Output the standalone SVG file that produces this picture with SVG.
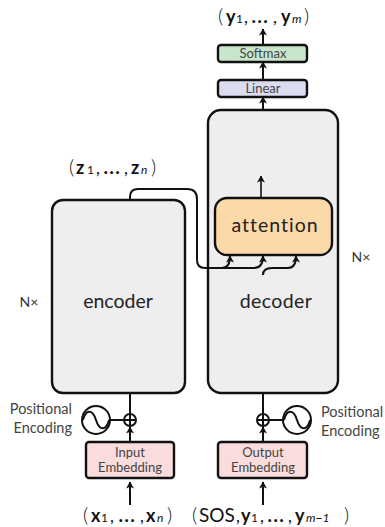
<svg xmlns="http://www.w3.org/2000/svg" width="385" height="527" viewBox="0 0 385 527">
<style>
text{font-family:"Lato","Open Sans","DejaVu Sans",sans-serif;fill:#333}
.b{fill:none;stroke:#111;stroke-width:2}
.box{stroke:#111;stroke-width:2.4}
.lbl{font-size:13px;fill:#444;text-anchor:middle}
.big{font-size:19.5px;text-anchor:middle;fill:#222}
.m{font-size:17px;fill:#111}
.mb{font-weight:700;font-size:18px}
.sub{font-size:12px}
.p{font-size:20px;font-weight:300}
.d{font-size:23px}
.sm{font-size:14.5px;fill:#444}
</style>
<defs>
<marker id="a" markerUnits="userSpaceOnUse" markerWidth="9" markerHeight="9" refX="7" refY="4.5" orient="auto"><path d="M0.5 0.5L7.5 4.5L0.5 8.5L2.2 4.5Z" fill="#111"/></marker>
</defs>
<g id="encoder"><rect class="box" x="52" y="200" width="133" height="193" rx="11" fill="#eee"/><text class="big" x="118" y="308">encoder</text></g>
<g id="decoder"><rect class="box" x="208" y="110" width="130" height="283" rx="13" fill="#eee"/><text class="big" x="276" y="308" style="letter-spacing:.4px">decoder</text></g>
<g id="attention"><rect class="box" x="215" y="198" width="117" height="57" rx="12" fill="#fcd9a8"/><text class="big" x="275" y="232" style="letter-spacing:1px">attention</text></g>
<g id="softmax"><rect class="box" x="218" y="45" width="89" height="17" rx="3" fill="#c9e6cd"/><text class="lbl" x="263" y="58">Softmax</text></g>
<g id="linear"><rect class="box" x="218" y="80" width="89" height="17" rx="3" fill="#dcdcf0"/><text class="lbl" x="263" y="93">Linear</text></g>
<g id="input-embedding"><rect class="box" x="86" y="442" width="88" height="36" rx="3" fill="#fadcdc"/><text class="lbl" x="130" y="457">Input</text><text class="lbl" x="130" y="472">Embedding</text></g>
<g id="output-embedding"><rect class="box" x="218" y="442" width="89" height="36" rx="3" fill="#fadcdc"/><text class="lbl" x="263" y="457">Output</text><text class="lbl" x="263" y="472">Embedding</text></g>
<g id="pos-left"><circle class="b" cx="96" cy="420" r="14"/><path class="b" d="M83 420C86 408 93 410 96 420S106 432 109 420" stroke-width="1.5"/><circle class="b" cx="130" cy="420" r="6"/><path class="b" d="M124 420H136M130 414V426" stroke-width="1.2"/><text class="sm" x="72" y="414" text-anchor="end">Positional</text><text class="sm" x="72" y="433" text-anchor="end">Encoding</text></g>
<g id="pos-right"><circle class="b" cx="297" cy="420" r="14"/><path class="b" d="M284 420C287 408 294 410 297 420S307 432 310 420" stroke-width="1.5"/><circle class="b" cx="263" cy="420" r="6"/><path class="b" d="M257 420H269M263 414V426" stroke-width="1.2"/><text class="sm" x="321" y="417">Positional</text><text class="sm" x="321" y="436">Encoding</text></g>
<g id="connectors">
<path class="b" d="M130 505V482" marker-end="url(#a)"/>
<path class="b" d="M263 505V482" marker-end="url(#a)"/>
<path class="b" d="M130 442V427" marker-end="url(#a)"/>
<path class="b" d="M263 442V427" marker-end="url(#a)"/>
<path class="b" d="M130 414V393M263 414V393M124 420H110M269 420H283"/>
<path class="b" d="M263 110V97" marker-end="url(#a)"/>
<path class="b" d="M263 80V62" marker-end="url(#a)"/>
<path class="b" d="M263 45V29" marker-end="url(#a)"/>
<path class="b" style="stroke-width:1.6" d="M261 198V176" marker-end="url(#a)"/>
<path class="b" d="M130 200V197Q130 189 138 189H187Q197 189 197 199V260Q197 268 205 268H222Q230 268 230 256" marker-end="url(#a)"/>
<path class="b" d="M222 268H254Q263 268 263 256" marker-end="url(#a)"/>
<path class="b" d="M263 275Q263 268 272 268H288Q296 268 296 256" marker-end="url(#a)"/>
</g>
<g id="labels">
<text class="m" y="23"><tspan class="p" x="218">(</tspan><tspan class="mb" x="226">y</tspan><tspan class="sub" x="236">1</tspan><tspan x="244">,</tspan><tspan class="d" x="251">…</tspan><tspan x="273">,</tspan><tspan class="mb" x="281">y</tspan><tspan class="sub" font-style="italic" x="292">m</tspan><tspan class="p" x="304">)</tspan></text>
<text class="m" y="174"><tspan class="p" x="69">(</tspan><tspan class="mb" x="76">z</tspan><tspan class="sub" x="87">1</tspan><tspan x="96">,</tspan><tspan class="d" x="103">…</tspan><tspan x="124">,</tspan><tspan class="mb" x="131">z</tspan><tspan class="sub" font-style="italic" x="141">n</tspan><tspan class="p" x="151">)</tspan></text>
<text class="m" y="522"><tspan class="p" x="83">(</tspan><tspan class="mb" x="91">x</tspan><tspan class="sub" x="101">1</tspan><tspan x="110">,</tspan><tspan class="d" x="118">…</tspan><tspan x="140">,</tspan><tspan class="mb" x="146">x</tspan><tspan class="sub" font-style="italic" x="157">n</tspan><tspan class="p" x="167">)</tspan></text>
<text class="m" y="522"><tspan class="p" x="192">(</tspan><tspan x="199" style="font-size:19px">SOS</tspan><tspan x="236">,</tspan><tspan class="mb" x="241">y</tspan><tspan class="sub" x="251">1</tspan><tspan x="260">,</tspan><tspan class="d" x="267">…</tspan><tspan x="288">,</tspan><tspan class="mb" x="295">y</tspan><tspan class="sub" font-style="italic" x="306">m−1</tspan><tspan class="p" x="344">)</tspan></text>
<text x="29" y="307" font-size="14" text-anchor="middle">N×</text>
<text x="361" y="262" font-size="14" text-anchor="middle">N×</text>
</g>
</svg>
